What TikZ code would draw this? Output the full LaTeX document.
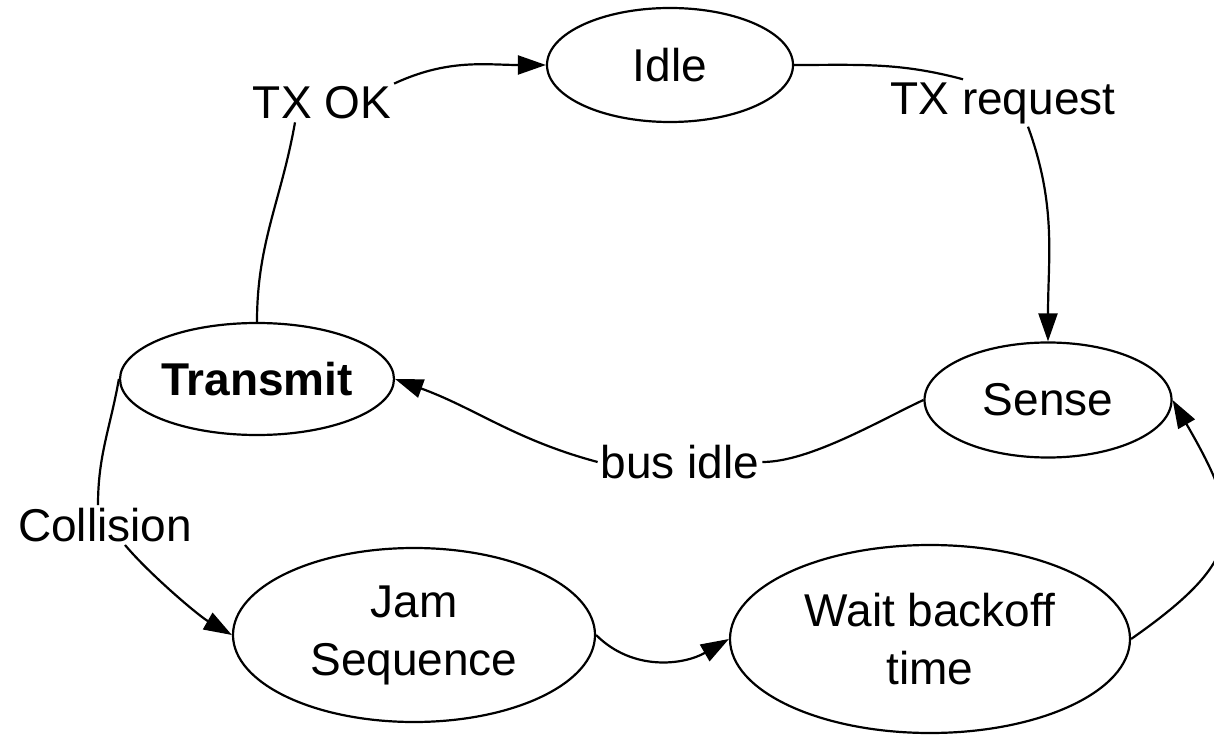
\documentclass[tikz,border=0pt]{standalone}
\usepackage{fontspec}
\setmainfont{Liberation Sans}
\usetikzlibrary{shapes.geometric,arrows.meta}
\begin{document}
\begin{tikzpicture}[x=1pt,y=1pt,line width=2.2pt,line join=round,>={Triangle[length=28pt,width=19pt]},font=\fontsize{46}{58}\selectfont,
  st/.style={draw,ellipse,inner sep=0pt,align=center},
  lbl/.style={inner sep=2pt}]
\useasboundingbox (0,0) rectangle (1214,734);
% states
\node[st,minimum width=246pt,minimum height=114pt] (idle) at (670,669) {Idle};
\node[st,minimum width=274pt,minimum height=112pt] (trans) at (257,355) {\bfseries Transmit};
\node[st,minimum width=247pt,minimum height=115pt] (sense) at (1048,334) {Sense};
\node[st,minimum width=362pt,minimum height=174pt] (jam) at (414,99) {Jam\\Sequence};
\node[st,minimum width=400pt,minimum height=188pt] (wait) at (930,95) {Wait backoff\\time};
% labels
\node[lbl] (txok) at (322,631) {TX OK};
\node[lbl] (txreq) at (1003,631) {TX request};
\node[lbl] (busidle) at (680,272) {bus idle};
\node[lbl] (coll) at (105,209) {Collision};
% transitions
\draw (trans.north) to[out=90,in=-100] ([xshift=-27pt]txok.south);
\draw[->] (txok.north east) to[out=25,in=180] (idle.west);
\draw (idle.east) to[out=0,in=165] ([xshift=-40pt]txreq.north);
\draw[->] ([xshift=25pt]txreq.south) to[out=-70,in=90] (sense.north);
\draw (sense.west) to[out=205,in=0,looseness=0.7] (busidle.east);
\draw[->] (busidle.west) to[out=165,in=-20] (trans.east);
\draw (trans.west) to[out=-100,in=90] ([xshift=-7pt]coll.north);
\draw[->] ([xshift=20pt]coll.south) to[out=-50,in=150,looseness=0.7] (jam.west);
\draw[->] (jam.east) to[out=-45,in=210] (wait.west);
\draw[->] (wait.east) to[out=35,in=-60,looseness=1.5] (sense.east);
\end{tikzpicture}
\end{document}
